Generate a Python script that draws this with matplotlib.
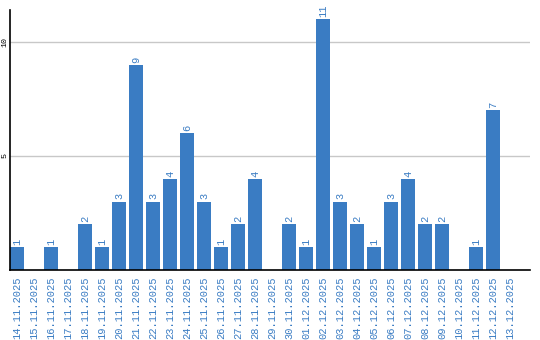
import matplotlib
matplotlib.use("Agg")
import matplotlib.pyplot as plt

dates = ["14.11.2025", "15.11.2025", "16.11.2025", "17.11.2025", "18.11.2025",
         "19.11.2025", "20.11.2025", "21.11.2025", "22.11.2025", "23.11.2025",
         "24.11.2025", "25.11.2025", "26.11.2025", "27.11.2025", "28.11.2025",
         "29.11.2025", "30.11.2025", "01.12.2025", "02.12.2025", "03.12.2025",
         "04.12.2025", "05.12.2025", "06.12.2025", "07.12.2025", "08.12.2025",
         "09.12.2025", "10.12.2025", "11.12.2025", "12.12.2025", "13.12.2025"]
counts = [1, 0, 1, 0, 2, 1, 3, 9, 3, 4, 6, 3, 1, 2, 4,
          0, 2, 1, 11, 3, 2, 1, 3, 4, 2, 2, 0, 1, 7, 0]
yticks = [5, 10]

blue = "#3a7cc3"
mono = ["Liberation Mono", "DejaVu Sans Mono"]

fig = plt.figure(figsize=(5.4, 3.4), dpi=100)
ax = fig.add_axes([10 / 540, 70 / 340, 520 / 540, 260 / 340])

x = list(range(len(dates)))
w = 14 / 17
ax.bar(x, counts, width=w, color=blue, zorder=2)

for i, v in enumerate(counts):
    if v > 0:
        ax.annotate(str(v), (i, v), xytext=(0, 1.5), textcoords="offset points",
                    rotation=90, ha="center", va="bottom", color=blue,
                    fontsize=7.5, family=mono)

ax.set_xlim(-w / 2, 30.18)
ax.set_ylim(0, 11.4)
ax.set_yticks(yticks)
ax.set_yticklabels([str(t) for t in yticks], rotation=90, va="center",
                   fontsize=6, family=mono)
ax.set_xticks(x)
ax.set_xticklabels(dates, rotation=90, color=blue, fontsize=7.5, family=mono)
ax.tick_params(length=0, pad=5)
ax.tick_params(axis="y", pad=1)
ax.grid(axis="y", color="#c8c8c8", linewidth=1, zorder=0)
for s in ["top", "right"]:
    ax.spines[s].set_visible(False)
ax.spines["left"].set_linewidth(1.2)
ax.spines["bottom"].set_linewidth(1.2)

fig.savefig("out.png", dpi=100)
